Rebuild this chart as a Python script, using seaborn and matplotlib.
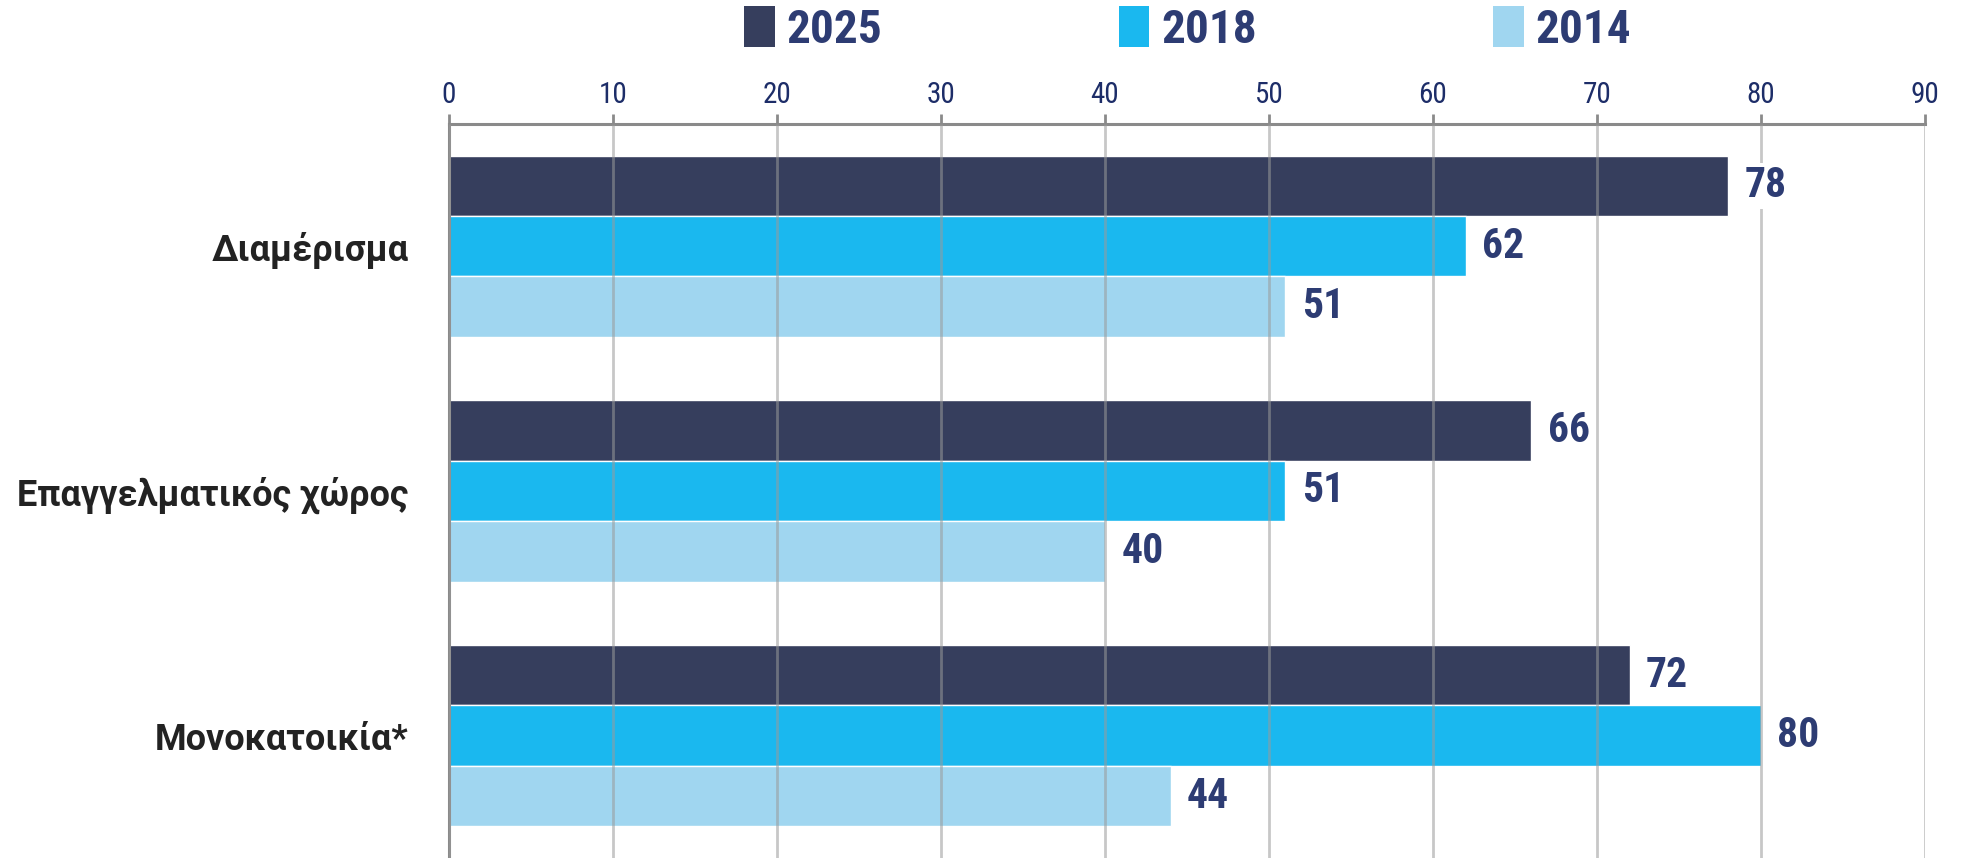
import matplotlib
matplotlib.use("Agg")
import matplotlib.pyplot as plt
from matplotlib.patches import Patch
import seaborn as sns
import pandas as pd
from matplotlib import font_manager

# ---------------------------------------------------------------------------
# Data
# ---------------------------------------------------------------------------
categories = ["Διαμέρισμα", "Επαγγελματικός χώρος", "Μονοκατοικία*"]
years = ["2025", "2018", "2014"]
values_2025 = [78, 66, 72]
values_2018 = [62, 51, 80]
values_2014 = [51, 40, 44]
x_ticks = [0, 10, 20, 30, 40, 50, 60, 70, 80, 90]

colors = ["#363e5d", "#1ab8ef", "#a0d6f0"]
label_color = "#2d3c73"

rows = []
for yr, vals in zip(years, [values_2025, values_2018, values_2014]):
    for cat, v in zip(categories, vals):
        rows.append({"category": cat, "year": yr, "value": v})
df = pd.DataFrame(rows)

# narrow font for numbers if present
names = {f.name for f in font_manager.fontManager.ttflist}
narrow = "Liberation Sans Narrow" if "Liberation Sans Narrow" in names else "Roboto Condensed"
if narrow not in names:
    narrow = "Liberation Sans"

sns.set_style("white")
plt.rcParams["font.family"] = ["Roboto", "DejaVu Sans"]

fig = plt.figure(figsize=(19.63, 8.58), dpi=100)
ax = fig.add_axes([0.2287, 0.0, 0.7519, 0.8555])

sns.barplot(data=df, y="category", x="value", hue="year", orient="h",
            palette=colors, width=0.74, ax=ax, legend=False, saturation=1)

ax.set_xlim(0, 90)
ax.set_ylim(2.5, -0.5)
ax.set_xlabel("")
ax.set_ylabel("")

# grid lines in front of bars, faint
ax.set_axisbelow(False)
ax.xaxis.grid(True, color="#9a9a9a", alpha=0.55, linewidth=2)
ax.yaxis.grid(False)

ax.xaxis.tick_top()
ax.set_xticks(x_ticks)
ax.set_xticklabels([str(t) for t in x_ticks], fontsize=21, color="#1d2d68",
                   family=narrow)
ax.tick_params(axis="x", direction="out", length=7, width=2, color="#8a8a8a", pad=4)

ax.set_yticks(range(len(categories)))
ax.set_yticklabels(categories, fontsize=26, fontweight="bold", color="#222222")
ax.set_yticks([-0.5, 0.5, 1.5, 2.5], minor=True)
ax.tick_params(axis="y", which="major", length=0, pad=29)
ax.tick_params(axis="y", which="minor", direction="out", length=9, width=2, color="#8a8a8a")

for side in ["right", "bottom"]:
    ax.spines[side].set_visible(False)
for side in ["top", "left"]:
    ax.spines[side].set_color("#8a8a8a")
    ax.spines[side].set_linewidth(2.2)

# value labels
for container in ax.containers:
    for bar in container:
        w = bar.get_width()
        ax.text(w + 1.0, bar.get_y() + bar.get_height() / 2, f"{w:.0f}",
                va="center", ha="left", fontsize=30, fontweight="bold",
                color=label_color, family=narrow, zorder=5,
                bbox=dict(facecolor="white", edgecolor="none", pad=2))

# legend
handles = [Patch(facecolor=c, edgecolor="none") for c in colors]
leg = fig.legend(handles, years, loc="center", bbox_to_anchor=(0.605, 0.966),
                 ncol=3, frameon=False, handlelength=0.65, handleheight=0.95,
                 handletextpad=0.25, columnspacing=5.0,
                 prop={"family": narrow, "weight": "bold", "size": 34})
for t in leg.get_texts():
    t.set_color(label_color)

fig.savefig("out.png", dpi=100)
